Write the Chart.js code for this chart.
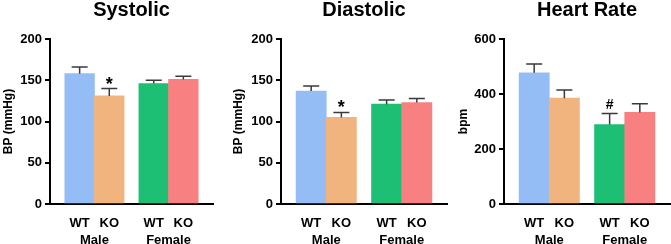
<!DOCTYPE html>
<html>
<head>
<meta charset="utf-8">
<script src="https://cdn.jsdelivr.net/npm/chart.js@4.4.1/dist/chart.umd.min.js"></script>
<style>
  body { margin: 0; background: #fff; width: 671px; height: 244px; position: relative; overflow: hidden; }
  canvas { position: absolute; top: 0; }
</style>
</head>
<body>
<canvas id="sys" width="214" height="244" style="left:0px"></canvas>
<canvas id="dia" width="218" height="244" style="left:230px"></canvas>
<canvas id="hr" width="216" height="244" style="left:455px"></canvas>
<script>
// bars: genotype label + which sex group they belong to
const genotypes = ["WT", "KO", "WT", "KO"];
const sexes = ["Male", "Female"];
const barSex = [0, 0, 1, 1];

const systolicMean = [158, 131, 146, 151];
const systolicSem = [8, 9, 4, 4];
const systolicMarks = ["", "*", "", ""];

const diastolicMean = [137, 105, 121, 123];
const diastolicSem = [6, 6, 5, 5];
const diastolicMarks = ["", "*", "", ""];

const heartRateMean = [477, 385, 289, 333];
const heartRateSem = [32, 30, 40, 32];
const heartRateMarks = ["", "", "#", ""];

const bpTicks = [0, 50, 100, 150, 200];
const hrTicks = [0, 200, 400, 600];

const barColors = ["#94BDF5", "#F2B47F", "#1DBF74", "#F98080"];

Chart.defaults.font.family = "'Liberation Sans', Arial, Helvetica, sans-serif";
Chart.defaults.color = "#000";

// bar slots: one unit per bar, half a unit gap between sex groups
const barPos = genotypes.map((g, i) => i + 0.5 * barSex[i]);
const groupCenters = sexes.map((s, k) => {
  const p = barPos.filter((v, i) => barSex[i] === k);
  return (p[0] + p[p.length - 1]) / 2;
});

const errorBars = {
  id: "errorBars",
  afterDatasetsDraw(chart, args, opts) {
    const { ctx } = chart;
    const y = chart.scales.y;
    const meta = chart.getDatasetMeta(0);
    ctx.save();
    ctx.strokeStyle = "#3a3a3a";
    ctx.lineWidth = 1.5;
    opts.means.forEach((m, i) => {
      const px = meta.data[i].x;
      const y0 = y.getPixelForValue(m);
      const y1 = y.getPixelForValue(m + opts.sems[i]);
      ctx.beginPath();
      ctx.moveTo(px, y0);
      ctx.lineTo(px, y1);
      ctx.moveTo(px - 8, y1);
      ctx.lineTo(px + 8, y1);
      ctx.stroke();
      const mark = opts.marks[i];
      if (mark) {
        ctx.fillStyle = "#000";
        ctx.textAlign = "center";
        ctx.textBaseline = "alphabetic";
        if (mark === "*") {
          ctx.font = "bold 18px 'Liberation Sans', Arial, sans-serif";
          ctx.fillText(mark, px, y1 + 1);
        } else {
          ctx.font = "bold 14px 'Liberation Sans', Arial, sans-serif";
          ctx.fillText(mark, px, y1 - 4.5);
        }
      }
    });
    ctx.restore();
  }
};

function makeChart(id, title, yTitle, means, sems, marks, ticks, yWidth) {
  const tickFont = { size: 13, weight: "bold" };
  new Chart(document.getElementById(id), {
    type: "bar",
    data: {
      datasets: [{
        data: means.map((m, i) => ({ x: barPos[i], y: m })),
        backgroundColor: barColors,
        borderWidth: 0,
        barPercentage: 1,
        categoryPercentage: 1,
        xAxisID: "x",
        yAxisID: "y"
      }]
    },
    options: {
      responsive: false,
      animation: false,
      devicePixelRatio: 1,
      layout: { padding: { left: 0, right: 1, top: 0, bottom: 0 } },
      plugins: {
        legend: { display: false },
        tooltip: { enabled: false },
        title: {
          display: true,
          text: title,
          fullSize: false,
          color: "#000",
          font: { size: 20, weight: "bold", lineHeight: 1 },
          padding: { top: 0, bottom: 19 }
        },
        errorBars: { means: means, sems: sems, marks: marks }
      },
      scales: {
        x: {
          type: "linear",
          position: "bottom",
          min: -1,
          max: 4.5,
          offset: false,
          z: 1,
          grid: { display: false, drawTicks: false, offset: false },
          border: { display: true, color: "#000", width: 2 },
          ticks: {
            font: tickFont,
            color: "#000",
            padding: 12,
            autoSkip: false,
            maxRotation: 0,
            callback: v => genotypes[barPos.indexOf(v)]
          },
          afterBuildTicks: s => { s.ticks = barPos.map(v => ({ value: v })); },
          afterFit: s => { s.height = 29; }
        },
        x2: {
          type: "linear",
          position: "bottom",
          min: -1,
          max: 4.5,
          offset: false,
          grid: { display: false, drawTicks: false, offset: false },
          border: { display: false },
          ticks: {
            font: tickFont,
            color: "#000",
            padding: 0,
            autoSkip: false,
            maxRotation: 0,
            callback: v => sexes[groupCenters.indexOf(v)]
          },
          afterBuildTicks: s => { s.ticks = groupCenters.map(v => ({ value: v })); },
          afterFit: s => { s.height = 11; }
        },
        y: {
          min: ticks[0],
          max: ticks[ticks.length - 1],
          z: 1,
          grid: { drawOnChartArea: false, drawTicks: true, tickLength: 5, color: "#000", lineWidth: 2 },
          border: { display: true, color: "#000", width: 2 },
          ticks: { font: tickFont, color: "#000", padding: 3, stepSize: ticks[1] - ticks[0] },
          title: {
            display: true,
            text: yTitle,
            color: "#000",
            font: { size: 12, weight: "bold" },
            padding: { top: 1, bottom: 0 }
          },
          afterFit: s => { s.width = yWidth; }
        }
      }
    },
    plugins: [errorBars]
  });
}

makeChart("sys", "Systolic", "BP (mmHg)", systolicMean, systolicSem, systolicMarks, bpTicks, 50);
makeChart("dia", "Diastolic", "BP (mmHg)", diastolicMean, diastolicSem, diastolicMarks, bpTicks, 51);
makeChart("hr", "Heart Rate", "bpm", heartRateMean, heartRateSem, heartRateMarks, hrTicks, 49);
</script>
</body>
</html>
